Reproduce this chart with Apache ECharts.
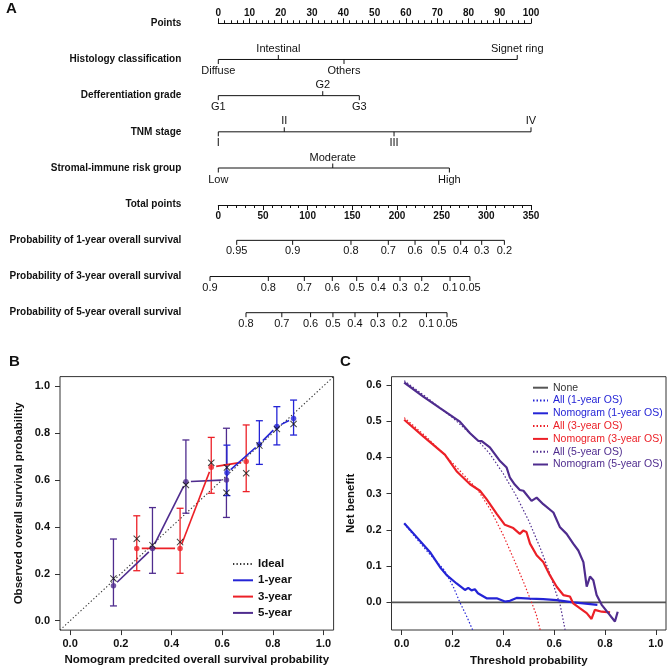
<!DOCTYPE html>
<html><head><meta charset="utf-8">
<script src="https://cdn.jsdelivr.net/npm/echarts@6/dist/echarts.min.js"></script>
<style>html,body{margin:0;padding:0;background:#fff}#c{width:669px;height:667px}</style>
</head><body><div id="c"></div>
<script>
// ================= DATA =================
// --- Panel A: nomogram ---
const rowTitles = ['Points','Histology classification','Defferentiation grade','TNM stage',
  'Stromal-immune risk group','Total points','Probability of 1-year overall survival',
  'Probability of 3-year overall survival','Probability of 5-year overall survival'];
const pointsMax = 100, pointsStep = 10;
const totalMax = 350, totalStep = 50;
const histCats = ['Diffuse','Intestinal','Others','Signet ring'];
const histPts  = [0, 19.2, 40.2, 95.6];
const gradeCats = ['G1','G2','G3'];
const gradePts  = [0, 33.4, 45.1];
const tnmCats = ['I','II','III','IV'];
const tnmPts  = [0, 21.1, 56.2, 100];
const riskCats = ['Low','Moderate','High'];
const riskPts  = [0, 36.6, 73.9];
const os1Labels = ['0.95','0.9','0.8','0.7','0.6','0.5','0.4','0.3','0.2'];
const os1Pos    = [20.6, 83.2, 148.5, 190.3, 220.2, 246.7, 271.3, 294.8, 320.2];
const os3Labels = ['0.9','0.8','0.7','0.6','0.5','0.4','0.3','0.2','0.1','0.05'];
const os3Pos    = [-9.3, 56, 96.3, 127.6, 154.9, 179.1, 203.4, 227.7, 259.4, 281.7];
const os5Labels = ['0.8','0.7','0.6','0.5','0.4','0.3','0.2','0.1','0.05'];
const os5Pos    = [31, 71.1, 103.3, 128.3, 153, 178.3, 203, 233, 256];

// --- Panel B: calibration ---
const calTicks = [0, 0.2, 0.4, 0.6, 0.8, 1.0];
const idealLine = [-0.04, 1.04];
const y1Pred = [0.619, 0.747, 0.816, 0.882];
const y1Obs  = [0.630, 0.752, 0.827, 0.862];
const y1Lo   = [0.533, 0.666, 0.749, 0.791];
const y1Hi   = [0.748, 0.852, 0.912, 0.940];
const y1Bc   = [0.653, 0.746, 0.817, 0.838];
const y3Pred = [0.263, 0.434, 0.557, 0.695];
const y3Obs  = [0.308, 0.308, 0.654, 0.678];
const y3Lo   = [0.213, 0.202, 0.543, 0.550];
const y3Hi   = [0.447, 0.479, 0.781, 0.834];
const y3Bc   = [0.349, 0.335, 0.673, 0.628];
const y5Pred = [0.171, 0.325, 0.457, 0.617];
const y5Obs  = [0.149, 0.308, 0.592, 0.600];
const y5Lo   = [0.063, 0.202, 0.458, 0.440];
const y5Hi   = [0.348, 0.482, 0.770, 0.820];
const y5Bc   = [0.180, 0.322, 0.578, 0.545];

// --- Panel C: decision curves ---
const dcaXTicks = [0, 0.2, 0.4, 0.6, 0.8, 1.0];
const dcaYTicks = [0, 0.1, 0.2, 0.3, 0.4, 0.5, 0.6];
const noneX = [-0.04, 1.04];
const noneY = [0, 0];
const all1X = [0.01, 0.05, 0.10, 0.169, 0.203, 0.229, 0.256, 0.279];
const all1Y = [0.217, 0.183, 0.141, 0.088, 0.043, 0.0, -0.039, -0.076];
const nom1X = [0.01, 0.059, 0.111, 0.151, 0.177, 0.216, 0.249, 0.262, 0.275, 0.288, 0.30, 0.334, 0.374, 0.406, 0.426, 0.452, 0.505, 0.557, 0.61, 0.675, 0.715, 0.77];
const nom1Y = [0.218, 0.18, 0.139, 0.097, 0.075, 0.052, 0.034, 0.040, 0.033, 0.036, 0.025, 0.011, 0.011, 0.002, 0.004, 0.012, 0.010, 0.009, 0.006, 0.0, -0.003, -0.007];
const all3X = [0.01, 0.10, 0.20, 0.30, 0.35, 0.40, 0.45, 0.48, 0.511, 0.53, 0.545];
const all3Y = [0.510, 0.455, 0.385, 0.310, 0.255, 0.185, 0.105, 0.055, 0.0, -0.035, -0.076];
const nom3X = [0.01, 0.085, 0.17, 0.216, 0.269, 0.308, 0.334, 0.374, 0.406, 0.439, 0.465, 0.478, 0.491, 0.505, 0.531, 0.557, 0.583, 0.61, 0.636, 0.662, 0.675, 0.702, 0.728, 0.747, 0.76, 0.787, 0.82];
const nom3Y = [0.504, 0.458, 0.408, 0.362, 0.326, 0.308, 0.285, 0.244, 0.214, 0.205, 0.189, 0.198, 0.194, 0.162, 0.130, 0.111, 0.075, 0.043, 0.020, 0.016, -0.003, -0.017, -0.030, -0.046, -0.021, -0.026, -0.028];
const all5X = [0.01, 0.10, 0.20, 0.30, 0.347, 0.40, 0.45, 0.50, 0.544, 0.583, 0.61, 0.623, 0.643];
const all5Y = [0.612, 0.565, 0.510, 0.447, 0.410, 0.355, 0.295, 0.225, 0.152, 0.080, 0.020, -0.005, -0.076];
const nom5X = [0.01, 0.085, 0.151, 0.229, 0.269, 0.301, 0.315, 0.347, 0.387, 0.413, 0.426, 0.445, 0.465, 0.479, 0.511, 0.531, 0.557, 0.597, 0.623, 0.649, 0.675, 0.695, 0.715, 0.728, 0.741, 0.754, 0.767, 0.787, 0.813, 0.839, 0.85];
const nom5Y = [0.607, 0.568, 0.536, 0.499, 0.467, 0.446, 0.445, 0.428, 0.390, 0.372, 0.344, 0.325, 0.310, 0.308, 0.280, 0.289, 0.271, 0.248, 0.207, 0.189, 0.162, 0.143, 0.111, 0.043, 0.071, 0.061, 0.020, -0.007, -0.030, -0.053, -0.026];

// ================= STYLE =================
const FONT = '"Liberation Sans", Arial, Helvetica, sans-serif';
const INK = '#111';
const BLUE = '#2424d6', RED = '#ec2027', PURPLE = '#4f2c8e', GREY = '#555';

const zip = (xs, ys) => xs.map((x, i) => [x, ys[i]]);

function catSeries(cats, pts, row) {
  const order = pts.map((p, i) => i).sort((a, b) => pts[a] - pts[b]);
  const above = [];
  order.forEach((idx, r) => { above[idx] = (r % 2 === 1); });
  const lo = Math.min(...pts), hi = Math.max(...pts);
  return {
    type: 'custom', xAxisIndex: 2, yAxisIndex: 2, silent: true, clip: false,
    data: pts.map(p => [p, row]),
    renderItem(params, api) {
      const i = params.dataIndex;
      const c = api.coord([api.value(0), api.value(1)]);
      const up = above[i];
      const ch = [
        { type: 'line', shape: { x1: c[0], y1: c[1], x2: c[0], y2: c[1] + (up ? -4.5 : 4.5) }, style: { stroke: INK, lineWidth: 1 } },
        { type: 'text', style: { x: c[0], y: up ? c[1] - 5 : c[1] + 6, text: cats[i], align: 'center',
            verticalAlign: up ? 'bottom' : 'top', fill: INK, fontSize: 11, fontFamily: FONT } }
      ];
      if (i === 0) {
        const a = api.coord([lo, row]), b = api.coord([hi, row]);
        ch.unshift({ type: 'line', shape: { x1: a[0], y1: a[1], x2: b[0], y2: b[1] }, style: { stroke: INK, lineWidth: 1 } });
      }
      return { type: 'group', children: ch };
    }
  };
}
function probSeries(labels, pos, row) {
  const lo = Math.min(...pos), hi = Math.max(...pos);
  return {
    type: 'custom', xAxisIndex: 3, yAxisIndex: 2, silent: true, clip: false,
    data: pos.map(p => [p, row]),
    renderItem(params, api) {
      const i = params.dataIndex;
      const c = api.coord([api.value(0), api.value(1)]);
      const ch = [
        { type: 'line', shape: { x1: c[0], y1: c[1], x2: c[0], y2: c[1] + 4.5 }, style: { stroke: INK, lineWidth: 1 } },
        { type: 'text', style: { x: c[0], y: c[1] + 5.5, text: labels[i], align: 'center', verticalAlign: 'top',
            fill: INK, fontSize: 11, fontFamily: FONT } }
      ];
      if (i === 0) {
        const a = api.coord([lo, row]), b = api.coord([hi, row]);
        ch.unshift({ type: 'line', shape: { x1: a[0], y1: a[1], x2: b[0], y2: b[1] }, style: { stroke: INK, lineWidth: 1 } });
      }
      return { type: 'group', children: ch };
    }
  };
}
function errSeries(pred, lo, hi, color) {
  return {
    type: 'custom', xAxisIndex: 4, yAxisIndex: 3, silent: true, z: 2,
    data: pred.map((p, i) => [p, lo[i], hi[i]]),
    renderItem(params, api) {
      const t = api.coord([api.value(0), api.value(2)]);
      const b = api.coord([api.value(0), api.value(1)]);
      const s = { stroke: color, lineWidth: 1.3 };
      return { type: 'group', children: [
        { type: 'line', shape: { x1: t[0], y1: t[1], x2: b[0], y2: b[1] }, style: s },
        { type: 'line', shape: { x1: t[0] - 3.5, y1: t[1], x2: t[0] + 3.5, y2: t[1] }, style: s },
        { type: 'line', shape: { x1: b[0] - 3.5, y1: b[1], x2: b[0] + 3.5, y2: b[1] }, style: s }
      ] };
    }
  };
}
function segSeries(pred, obs, color) {
  return {
    type: 'custom', xAxisIndex: 4, yAxisIndex: 3, silent: true, z: 3,
    data: pred.map((p, i) => [p, obs[i]]),
    renderItem(params, api) {
      const i = params.dataIndex;
      if (i >= pred.length - 1) return null;
      const a = api.coord([pred[i], obs[i]]), b = api.coord([pred[i + 1], obs[i + 1]]);
      const dx = b[0] - a[0], dy = b[1] - a[1], L = Math.hypot(dx, dy), g = 5;
      if (L <= 2 * g) return null;
      const ux = dx / L, uy = dy / L;
      return { type: 'line', shape: { x1: a[0] + ux * g, y1: a[1] + uy * g, x2: b[0] - ux * g, y2: b[1] - uy * g },
        style: { stroke: color, lineWidth: 1.6 } };
    }
  };
}
const XMARK = 'path://M1,0L5,4L9,0L10,1L6,5L10,9L9,10L5,6L1,10L0,9L4,5L0,1Z';
function dotSeries(pred, obs, color) {
  return { type: 'scatter', xAxisIndex: 4, yAxisIndex: 3, silent: true, z: 4, symbol: 'circle', symbolSize: 5.5,
    itemStyle: { color }, data: zip(pred, obs) };
}
function xSeries(pred, bc) {
  return { type: 'scatter', xAxisIndex: 4, yAxisIndex: 3, silent: true, z: 5, symbol: XMARK, symbolSize: 7,
    itemStyle: { color: INK }, data: zip(pred, bc) };
}
function legendLine(name, color, width, type) {
  return { type: 'line', name, xAxisIndex: 4, yAxisIndex: 3, data: [], symbol: 'none',
    lineStyle: { color, width, type }, itemStyle: { color } };
}
function dcaLine(name, xs, ys, color, width, type) {
  return { type: 'line', name, xAxisIndex: 5, yAxisIndex: 4, data: zip(xs, ys), symbol: 'none',
    silent: true, lineStyle: { color, width, type }, itemStyle: { color } };
}

const boldLbl = { fontFamily: FONT, fontWeight: 'bold', color: INK };
const fmt1 = v => Number(v).toFixed(1);

function plotAxis(gridIndex, min, max, ticks, name, nameGap, isY) {
  return {
    gridIndex, type: 'value', min, max, name, nameLocation: 'middle', nameGap,
    nameTextStyle: { fontFamily: FONT, fontWeight: 'bold', fontSize: 11.5, color: INK },
    axisLine: { show: false, onZero: false },
    axisTick: { show: true, inside: false, length: 5, customValues: ticks, lineStyle: { color: '#333' } },
    axisLabel: { customValues: ticks, formatter: fmt1, fontSize: 11, margin: isY ? 10 : 8, ...boldLbl },
    splitLine: { show: false }
  };
}

const chart = echarts.init(document.getElementById('c'), null, { renderer: 'canvas' });
chart.setOption({
  animation: false,
  backgroundColor: '#fff',
  textStyle: { fontFamily: FONT },
  graphic: [
    { type: 'text', left: 6, top: 1, style: { text: 'A', font: 'bold 15px ' + FONT, fill: INK } },
    { type: 'text', left: 9, top: 354, style: { text: 'B', font: 'bold 15px ' + FONT, fill: INK } },
    { type: 'text', left: 340, top: 354, style: { text: 'C', font: 'bold 15px ' + FONT, fill: INK } }
  ],
  grid: [
    { left: 218.3, top: 23.3, width: 312.7, height: 1, outerBoundsMode: 'none' },
    { left: 218.3, top: 204, width: 312.7, height: 1, outerBoundsMode: 'none' },
    { left: 218.3, top: 23.3, width: 312.7, height: 289.4, outerBoundsMode: 'none' },
    { left: 60, top: 376.6, width: 273.6, height: 253.5, show: true, borderColor: '#333', borderWidth: 1, outerBoundsMode: 'none' },
    { left: 391.5, top: 376.7, width: 274.5, height: 253.3, show: true, borderColor: '#333', borderWidth: 1, outerBoundsMode: 'none' }
  ],
  xAxis: [
    { gridIndex: 0, type: 'value', position: 'top', min: 0, max: pointsMax, interval: pointsStep,
      axisLine: { show: true, onZero: false, lineStyle: { color: INK, width: 1 } },
      axisTick: { show: true, length: 5, lineStyle: { color: INK } },
      minorTick: { show: true, splitNumber: 5, length: 3, lineStyle: { color: INK } },
      axisLabel: { margin: 5, fontSize: 10, showMinLabel: true, showMaxLabel: true, ...boldLbl },
      splitLine: { show: false }, minorSplitLine: { show: false } },
    { gridIndex: 1, type: 'value', position: 'bottom', min: 0, max: totalMax, interval: totalStep,
      axisLine: { show: true, onZero: false, lineStyle: { color: INK, width: 1 } },
      axisTick: { show: true, length: 5, lineStyle: { color: INK } },
      minorTick: { show: true, splitNumber: 5, length: 3, lineStyle: { color: INK } },
      axisLabel: { margin: 6, fontSize: 10, showMinLabel: true, showMaxLabel: true, ...boldLbl },
      splitLine: { show: false }, minorSplitLine: { show: false } },
    { gridIndex: 2, type: 'value', min: 0, max: pointsMax, show: false },
    { gridIndex: 2, type: 'value', min: 0, max: totalMax, show: false },
    plotAxis(3, -0.04, 1.04, calTicks, 'Nomogram predcited overall survival probability', 24, false),
    plotAxis(4, -0.04, 1.04, dcaXTicks, 'Threshold probability', 25, false)
  ],
  yAxis: [
    { gridIndex: 0, type: 'value', min: 0, max: 1, show: false },
    { gridIndex: 1, type: 'value', min: 0, max: 1, show: false },
    { gridIndex: 2, type: 'category', data: rowTitles, inverse: true, boundaryGap: false,
      axisLine: { show: false }, axisTick: { show: false }, splitLine: { show: false },
      axisLabel: { margin: 37, fontSize: 10, interval: 0, ...boldLbl } },
    plotAxis(3, -0.04, 1.04, calTicks, 'Observed overall survival probability', 35, true),
    plotAxis(4, -0.0765, 0.623, dcaYTicks, 'Net benefit', 35, true)
  ],
  legend: [
    { data: ['Ideal', '1-year', '3-year', '5-year'], orient: 'vertical', left: 232, top: 557,
      itemWidth: 20, itemHeight: 14, itemGap: 2.3, selectedMode: false, padding: 0,
      itemStyle: { opacity: 0 },
      textStyle: { fontFamily: FONT, fontWeight: 'bold', fontSize: 11.5, color: INK, lineHeight: 14 } },
    { data: [
        { name: 'None', textStyle: { color: '#333' } },
        { name: 'All (1-year OS)', textStyle: { color: BLUE } },
        { name: 'Nomogram (1-year OS)', textStyle: { color: BLUE } },
        { name: 'All (3-year OS)', textStyle: { color: RED } },
        { name: 'Nomogram (3-year OS)', textStyle: { color: RED } },
        { name: 'All (5-year OS)', textStyle: { color: PURPLE } },
        { name: 'Nomogram (5-year OS)', textStyle: { color: PURPLE } } ],
      orient: 'vertical', left: 532, top: 381.3, itemWidth: 15, itemHeight: 12.8, itemGap: 0,
      selectedMode: false, padding: 0, itemStyle: { opacity: 0 },
      textStyle: { fontFamily: FONT, fontSize: 10.5, lineHeight: 12.8 } }
  ],
  series: [
    // Panel A
    catSeries(histCats, histPts, 1),
    catSeries(gradeCats, gradePts, 2),
    catSeries(tnmCats, tnmPts, 3),
    catSeries(riskCats, riskPts, 4),
    probSeries(os1Labels, os1Pos, 6),
    probSeries(os3Labels, os3Pos, 7),
    probSeries(os5Labels, os5Pos, 8),
    // Panel B
    { type: 'line', name: 'Ideal', xAxisIndex: 4, yAxisIndex: 3, data: zip(idealLine, idealLine),
      symbol: 'none', silent: true, z: 1,
      lineStyle: { color: '#333', width: 1.1, type: [1.3, 2.2] }, itemStyle: { color: '#333' } },
    legendLine('1-year', BLUE, 2, 'solid'),
    legendLine('3-year', RED, 2, 'solid'),
    legendLine('5-year', PURPLE, 2, 'solid'),
    errSeries(y5Pred, y5Lo, y5Hi, PURPLE),
    errSeries(y3Pred, y3Lo, y3Hi, RED),
    errSeries(y1Pred, y1Lo, y1Hi, BLUE),
    segSeries(y5Pred, y5Obs, PURPLE),
    segSeries(y3Pred, y3Obs, RED),
    segSeries(y1Pred, y1Obs, BLUE),
    dotSeries(y5Pred, y5Obs, PURPLE),
    dotSeries(y3Pred, y3Obs, RED),
    dotSeries(y1Pred, y1Obs, BLUE),
    xSeries(y5Pred, y5Bc),
    xSeries(y3Pred, y3Bc),
    xSeries(y1Pred, y1Bc),
    // Panel C
    dcaLine('None', noneX, noneY, GREY, 1.8, 'solid'),
    dcaLine('All (1-year OS)', all1X, all1Y, BLUE, 1.2, [1.5, 2]),
    dcaLine('All (3-year OS)', all3X, all3Y, RED, 1.2, [1.5, 2]),
    dcaLine('All (5-year OS)', all5X, all5Y, PURPLE, 1.2, [1.5, 2]),
    dcaLine('Nomogram (1-year OS)', nom1X, nom1Y, BLUE, 2.2, 'solid'),
    dcaLine('Nomogram (3-year OS)', nom3X, nom3Y, RED, 2.2, 'solid'),
    dcaLine('Nomogram (5-year OS)', nom5X, nom5Y, PURPLE, 2.2, 'solid')
  ]
});
</script>
</body></html>
